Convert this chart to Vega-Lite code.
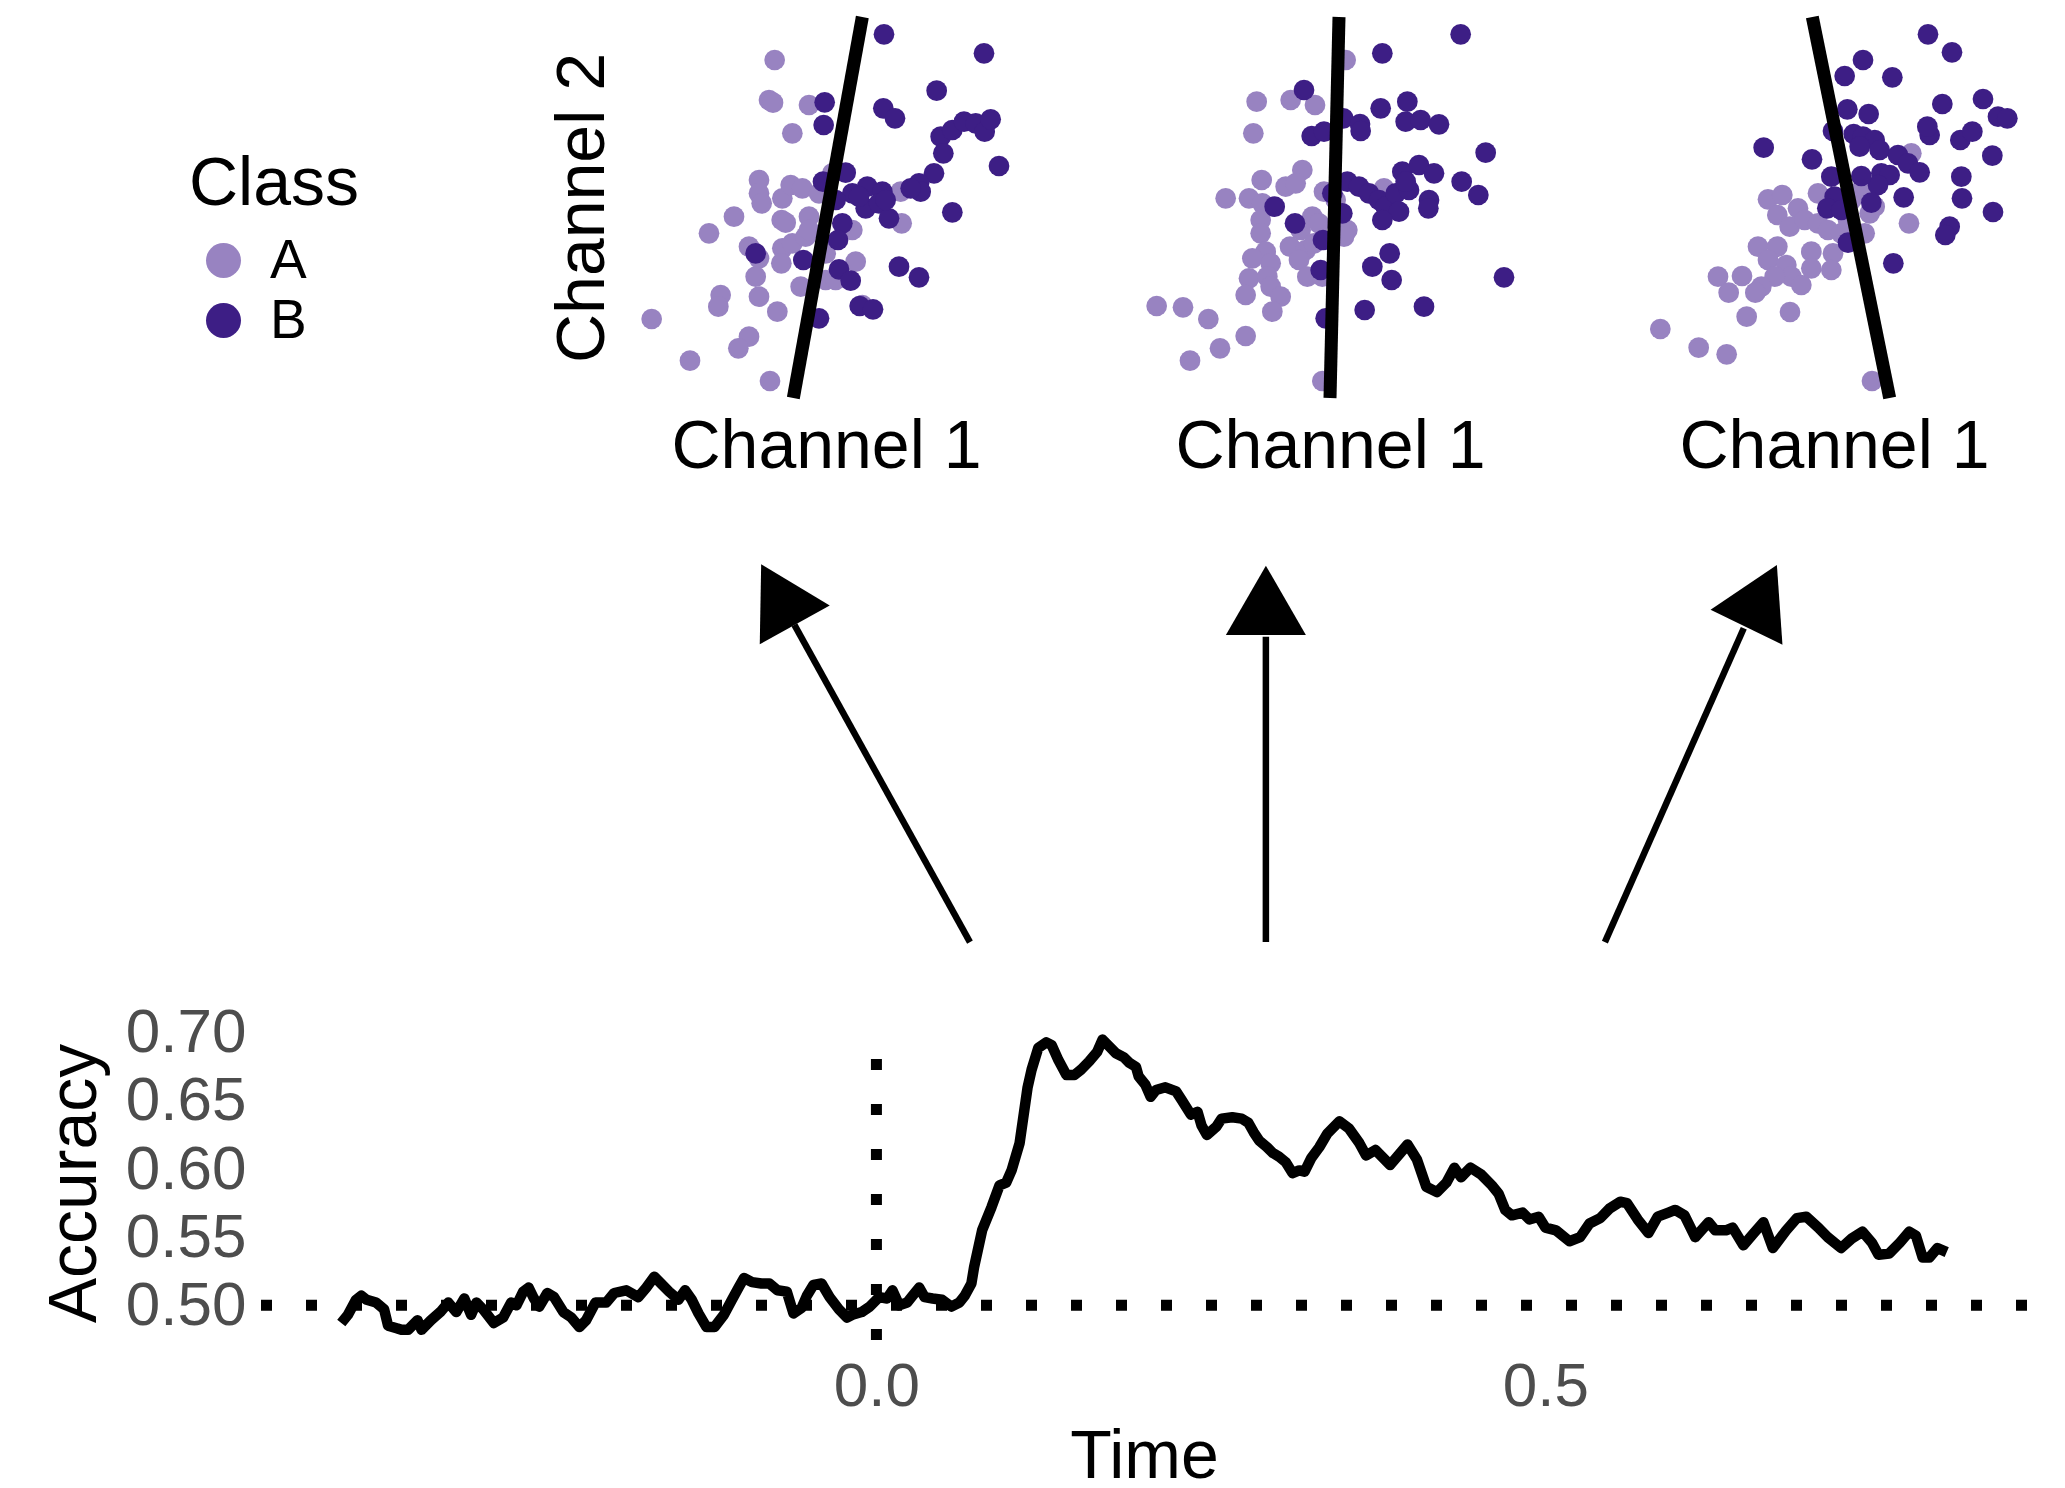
{
  "$schema": "https://vega.github.io/schema/vega-lite/v6.json",
  "background": "white",
  "padding": {"left": 41, "top": 10, "right": 5, "bottom": 5},
  "autosize": {"type": "pad"},
  "config": {
    "font": "Liberation Sans",
    "view": {"stroke": null},
    "axis": {"grid": false, "domain": false, "ticks": false, "titleFontWeight": "normal", "titleColor": "black", "titleFontSize": 68, "labelFont": "Liberation Sans", "titleFont": "Liberation Sans"},
    "legend": {"titleFontWeight": "normal"}
  },
  "datasets": {
    "scatter": [
      {"panel":1,"class":"A","ch1":4.67,"ch2":10.80},{"panel":1,"class":"A","ch1":4.50,"ch2":9.60},{"panel":1,"class":"A","ch1":4.62,"ch2":9.52},{"panel":1,"class":"A","ch1":5.70,"ch2":9.45},{"panel":1,"class":"A","ch1":5.20,"ch2":8.60},{"panel":1,"class":"A","ch1":4.20,"ch2":7.20},{"panel":1,"class":"A","ch1":4.20,"ch2":6.80},{"panel":1,"class":"A","ch1":4.28,"ch2":6.50},{"panel":1,"class":"A","ch1":4.90,"ch2":6.65},{"panel":1,"class":"A","ch1":5.15,"ch2":7.05},{"panel":1,"class":"A","ch1":5.50,"ch2":6.95},{"panel":1,"class":"A","ch1":3.45,"ch2":6.10},{"panel":1,"class":"A","ch1":2.70,"ch2":5.60},{"panel":1,"class":"A","ch1":4.88,"ch2":6.00},{"panel":1,"class":"A","ch1":5.00,"ch2":5.92},{"panel":1,"class":"A","ch1":5.70,"ch2":6.10},{"panel":1,"class":"A","ch1":6.00,"ch2":6.80},{"panel":1,"class":"A","ch1":6.40,"ch2":7.40},{"panel":1,"class":"A","ch1":3.90,"ch2":5.20},{"panel":1,"class":"A","ch1":4.20,"ch2":4.85},{"panel":1,"class":"A","ch1":4.90,"ch2":5.15},{"panel":1,"class":"A","ch1":5.20,"ch2":5.30},{"panel":1,"class":"A","ch1":5.60,"ch2":5.50},{"panel":1,"class":"A","ch1":5.70,"ch2":5.70},{"panel":1,"class":"A","ch1":7.00,"ch2":5.70},{"panel":1,"class":"A","ch1":6.20,"ch2":5.00},{"panel":1,"class":"A","ch1":7.10,"ch2":4.75},{"panel":1,"class":"A","ch1":4.10,"ch2":4.30},{"panel":1,"class":"A","ch1":4.87,"ch2":4.70},{"panel":1,"class":"A","ch1":5.45,"ch2":4.00},{"panel":1,"class":"A","ch1":6.20,"ch2":4.20},{"panel":1,"class":"A","ch1":6.50,"ch2":4.20},{"panel":1,"class":"A","ch1":4.20,"ch2":3.70},{"panel":1,"class":"A","ch1":3.05,"ch2":3.75},{"panel":1,"class":"A","ch1":2.98,"ch2":3.40},{"panel":1,"class":"A","ch1":4.75,"ch2":3.25},{"panel":1,"class":"A","ch1":3.90,"ch2":2.50},{"panel":1,"class":"A","ch1":3.58,"ch2":2.15},{"panel":1,"class":"A","ch1":2.13,"ch2":1.78},{"panel":1,"class":"A","ch1":0.98,"ch2":3.03},{"panel":1,"class":"A","ch1":4.53,"ch2":1.17},{"panel":1,"class":"A","ch1":7.30,"ch2":3.45},{"panel":1,"class":"A","ch1":8.45,"ch2":6.85},{"panel":1,"class":"A","ch1":8.48,"ch2":5.90},
      {"panel":1,"class":"B","ch1":7.95,"ch2":11.57},{"panel":1,"class":"B","ch1":10.95,"ch2":11.00},{"panel":1,"class":"B","ch1":9.53,"ch2":9.88},{"panel":1,"class":"B","ch1":6.17,"ch2":9.53},{"panel":1,"class":"B","ch1":6.14,"ch2":8.85},{"panel":1,"class":"B","ch1":7.93,"ch2":9.35},{"panel":1,"class":"B","ch1":8.28,"ch2":9.05},{"panel":1,"class":"B","ch1":9.65,"ch2":8.50},{"panel":1,"class":"B","ch1":10.00,"ch2":8.70},{"panel":1,"class":"B","ch1":10.35,"ch2":8.95},{"panel":1,"class":"B","ch1":10.70,"ch2":8.90},{"panel":1,"class":"B","ch1":10.97,"ch2":8.65},{"panel":1,"class":"B","ch1":11.15,"ch2":9.02},{"panel":1,"class":"B","ch1":9.73,"ch2":8.00},{"panel":1,"class":"B","ch1":11.40,"ch2":7.62},{"panel":1,"class":"B","ch1":9.45,"ch2":7.40},{"panel":1,"class":"B","ch1":9.00,"ch2":7.10},{"panel":1,"class":"B","ch1":9.05,"ch2":6.85},{"panel":1,"class":"B","ch1":8.75,"ch2":6.95},{"panel":1,"class":"B","ch1":6.80,"ch2":7.42},{"panel":1,"class":"B","ch1":6.12,"ch2":7.15},{"panel":1,"class":"B","ch1":7.00,"ch2":6.80},{"panel":1,"class":"B","ch1":7.45,"ch2":7.00},{"panel":1,"class":"B","ch1":7.90,"ch2":6.85},{"panel":1,"class":"B","ch1":7.40,"ch2":6.35},{"panel":1,"class":"B","ch1":7.80,"ch2":6.50},{"panel":1,"class":"B","ch1":8.10,"ch2":6.05},{"panel":1,"class":"B","ch1":6.70,"ch2":5.90},{"panel":1,"class":"B","ch1":6.57,"ch2":5.40},{"panel":1,"class":"B","ch1":10.00,"ch2":6.23},{"panel":1,"class":"B","ch1":4.10,"ch2":5.00},{"panel":1,"class":"B","ch1":5.53,"ch2":4.80},{"panel":1,"class":"B","ch1":6.60,"ch2":4.52},{"panel":1,"class":"B","ch1":6.95,"ch2":4.18},{"panel":1,"class":"B","ch1":8.40,"ch2":4.60},{"panel":1,"class":"B","ch1":9.00,"ch2":4.28},{"panel":1,"class":"B","ch1":7.22,"ch2":3.42},{"panel":1,"class":"B","ch1":7.62,"ch2":3.32},{"panel":1,"class":"B","ch1":6.00,"ch2":3.05},{"panel":1,"class":"B","ch1":6.50,"ch2":6.60},{"panel":1,"class":"B","ch1":7.20,"ch2":6.70},{"panel":1,"class":"B","ch1":8.00,"ch2":6.60},
      {"panel":2,"class":"A","ch1":6.80,"ch2":10.80},{"panel":2,"class":"A","ch1":4.13,"ch2":9.55},{"panel":2,"class":"A","ch1":5.15,"ch2":9.60},{"panel":2,"class":"A","ch1":5.88,"ch2":9.45},{"panel":2,"class":"A","ch1":4.03,"ch2":8.60},{"panel":2,"class":"A","ch1":5.50,"ch2":7.50},{"panel":2,"class":"A","ch1":4.28,"ch2":7.20},{"panel":2,"class":"A","ch1":5.00,"ch2":7.00},{"panel":2,"class":"A","ch1":5.30,"ch2":7.10},{"panel":2,"class":"A","ch1":6.15,"ch2":6.85},{"panel":2,"class":"A","ch1":3.20,"ch2":6.65},{"panel":2,"class":"A","ch1":3.90,"ch2":6.65},{"panel":2,"class":"A","ch1":4.30,"ch2":6.50},{"panel":2,"class":"A","ch1":4.25,"ch2":6.00},{"panel":2,"class":"A","ch1":4.25,"ch2":5.60},{"panel":2,"class":"A","ch1":5.80,"ch2":6.10},{"panel":2,"class":"A","ch1":6.00,"ch2":5.90},{"panel":2,"class":"A","ch1":5.45,"ch2":5.70},{"panel":2,"class":"A","ch1":6.85,"ch2":5.70},{"panel":2,"class":"A","ch1":6.75,"ch2":5.50},{"panel":2,"class":"A","ch1":5.13,"ch2":5.20},{"panel":2,"class":"A","ch1":5.60,"ch2":5.10},{"panel":2,"class":"A","ch1":4.40,"ch2":5.05},{"panel":2,"class":"A","ch1":4.00,"ch2":4.85},{"panel":2,"class":"A","ch1":4.55,"ch2":4.70},{"panel":2,"class":"A","ch1":5.40,"ch2":4.80},{"panel":2,"class":"A","ch1":5.85,"ch2":5.30},{"panel":2,"class":"A","ch1":3.90,"ch2":4.25},{"panel":2,"class":"A","ch1":4.45,"ch2":4.30},{"panel":2,"class":"A","ch1":5.65,"ch2":4.30},{"panel":2,"class":"A","ch1":6.10,"ch2":4.30},{"panel":2,"class":"A","ch1":4.55,"ch2":4.00},{"panel":2,"class":"A","ch1":3.80,"ch2":3.75},{"panel":2,"class":"A","ch1":4.85,"ch2":3.70},{"panel":2,"class":"A","ch1":4.60,"ch2":3.25},{"panel":2,"class":"A","ch1":1.13,"ch2":3.42},{"panel":2,"class":"A","ch1":1.92,"ch2":3.38},{"panel":2,"class":"A","ch1":2.68,"ch2":3.03},{"panel":2,"class":"A","ch1":3.80,"ch2":2.52},{"panel":2,"class":"A","ch1":3.03,"ch2":2.15},{"panel":2,"class":"A","ch1":2.13,"ch2":1.78},{"panel":2,"class":"A","ch1":6.10,"ch2":1.17},{"panel":2,"class":"A","ch1":7.95,"ch2":6.95},{"panel":2,"class":"A","ch1":6.50,"ch2":6.60},
      {"panel":2,"class":"B","ch1":10.25,"ch2":11.57},{"panel":2,"class":"B","ch1":7.90,"ch2":11.00},{"panel":2,"class":"B","ch1":5.55,"ch2":9.90},{"panel":2,"class":"B","ch1":7.85,"ch2":9.35},{"panel":2,"class":"B","ch1":8.65,"ch2":9.55},{"panel":2,"class":"B","ch1":6.73,"ch2":9.05},{"panel":2,"class":"B","ch1":7.23,"ch2":8.88},{"panel":2,"class":"B","ch1":7.25,"ch2":8.67},{"panel":2,"class":"B","ch1":5.78,"ch2":8.52},{"panel":2,"class":"B","ch1":6.15,"ch2":8.65},{"panel":2,"class":"B","ch1":8.60,"ch2":8.95},{"panel":2,"class":"B","ch1":9.05,"ch2":9.00},{"panel":2,"class":"B","ch1":9.60,"ch2":8.87},{"panel":2,"class":"B","ch1":11.00,"ch2":8.02},{"panel":2,"class":"B","ch1":8.50,"ch2":7.45},{"panel":2,"class":"B","ch1":9.00,"ch2":7.65},{"panel":2,"class":"B","ch1":9.45,"ch2":7.40},{"panel":2,"class":"B","ch1":10.28,"ch2":7.15},{"panel":2,"class":"B","ch1":10.78,"ch2":6.75},{"panel":2,"class":"B","ch1":6.85,"ch2":7.15},{"panel":2,"class":"B","ch1":7.20,"ch2":7.00},{"panel":2,"class":"B","ch1":7.50,"ch2":6.80},{"panel":2,"class":"B","ch1":7.80,"ch2":6.60},{"panel":2,"class":"B","ch1":8.00,"ch2":6.40},{"panel":2,"class":"B","ch1":8.30,"ch2":6.80},{"panel":2,"class":"B","ch1":8.70,"ch2":6.90},{"panel":2,"class":"B","ch1":8.60,"ch2":7.15},{"panel":2,"class":"B","ch1":9.30,"ch2":6.60},{"panel":2,"class":"B","ch1":9.28,"ch2":6.35},{"panel":2,"class":"B","ch1":8.40,"ch2":6.25},{"panel":2,"class":"B","ch1":7.90,"ch2":6.00},{"panel":2,"class":"B","ch1":6.70,"ch2":6.20},{"panel":2,"class":"B","ch1":4.67,"ch2":6.40},{"panel":2,"class":"B","ch1":5.28,"ch2":5.90},{"panel":2,"class":"B","ch1":6.12,"ch2":5.40},{"panel":2,"class":"B","ch1":6.05,"ch2":4.50},{"panel":2,"class":"B","ch1":7.60,"ch2":4.60},{"panel":2,"class":"B","ch1":8.12,"ch2":5.00},{"panel":2,"class":"B","ch1":8.18,"ch2":4.20},{"panel":2,"class":"B","ch1":11.55,"ch2":4.28},{"panel":2,"class":"B","ch1":7.37,"ch2":3.30},{"panel":2,"class":"B","ch1":9.15,"ch2":3.40},{"panel":2,"class":"B","ch1":6.20,"ch2":3.05},{"panel":2,"class":"B","ch1":6.40,"ch2":6.80},
      {"panel":3,"class":"A","ch1":8.80,"ch2":8.00},{"panel":3,"class":"A","ch1":8.73,"ch2":5.90},{"panel":3,"class":"A","ch1":4.50,"ch2":6.62},{"panel":3,"class":"A","ch1":4.93,"ch2":6.75},{"panel":3,"class":"A","ch1":6.00,"ch2":6.80},{"panel":3,"class":"A","ch1":5.40,"ch2":6.35},{"panel":3,"class":"A","ch1":4.78,"ch2":6.15},{"panel":3,"class":"A","ch1":5.15,"ch2":5.80},{"panel":3,"class":"A","ch1":5.60,"ch2":6.00},{"panel":3,"class":"A","ch1":6.00,"ch2":5.90},{"panel":3,"class":"A","ch1":6.30,"ch2":5.70},{"panel":3,"class":"A","ch1":6.70,"ch2":5.60},{"panel":3,"class":"A","ch1":7.40,"ch2":5.60},{"panel":3,"class":"A","ch1":7.30,"ch2":6.90},{"panel":3,"class":"A","ch1":7.70,"ch2":6.40},{"panel":3,"class":"A","ch1":7.55,"ch2":6.20},{"panel":3,"class":"A","ch1":4.20,"ch2":5.20},{"panel":3,"class":"A","ch1":4.78,"ch2":5.20},{"panel":3,"class":"A","ch1":5.80,"ch2":5.05},{"panel":3,"class":"A","ch1":6.45,"ch2":5.00},{"panel":3,"class":"A","ch1":4.50,"ch2":4.80},{"panel":3,"class":"A","ch1":5.05,"ch2":4.65},{"panel":3,"class":"A","ch1":5.20,"ch2":4.30},{"panel":3,"class":"A","ch1":4.70,"ch2":4.30},{"panel":3,"class":"A","ch1":4.30,"ch2":4.00},{"panel":3,"class":"A","ch1":5.50,"ch2":4.05},{"panel":3,"class":"A","ch1":5.80,"ch2":4.55},{"panel":3,"class":"A","ch1":6.40,"ch2":4.50},{"panel":3,"class":"A","ch1":3.00,"ch2":4.30},{"panel":3,"class":"A","ch1":3.72,"ch2":4.32},{"panel":3,"class":"A","ch1":3.32,"ch2":3.82},{"panel":3,"class":"A","ch1":4.12,"ch2":3.82},{"panel":3,"class":"A","ch1":3.86,"ch2":3.10},{"panel":3,"class":"A","ch1":5.16,"ch2":3.24},{"panel":3,"class":"A","ch1":1.27,"ch2":2.73},{"panel":3,"class":"A","ch1":2.42,"ch2":2.17},{"panel":3,"class":"A","ch1":3.26,"ch2":1.97},{"panel":3,"class":"A","ch1":7.62,"ch2":1.17},{"panel":3,"class":"A","ch1":6.90,"ch2":6.00},{"panel":3,"class":"A","ch1":7.00,"ch2":6.60},
      {"panel":3,"class":"B","ch1":9.30,"ch2":11.57},{"panel":3,"class":"B","ch1":10.02,"ch2":11.03},{"panel":3,"class":"B","ch1":7.35,"ch2":10.80},{"panel":3,"class":"B","ch1":6.80,"ch2":10.32},{"panel":3,"class":"B","ch1":8.23,"ch2":10.28},{"panel":3,"class":"B","ch1":9.73,"ch2":9.48},{"panel":3,"class":"B","ch1":10.95,"ch2":9.63},{"panel":3,"class":"B","ch1":11.40,"ch2":9.10},{"panel":3,"class":"B","ch1":11.68,"ch2":9.05},{"panel":3,"class":"B","ch1":6.88,"ch2":9.32},{"panel":3,"class":"B","ch1":7.52,"ch2":9.18},{"panel":3,"class":"B","ch1":4.37,"ch2":8.17},{"panel":3,"class":"B","ch1":5.82,"ch2":7.82},{"panel":3,"class":"B","ch1":6.45,"ch2":8.67},{"panel":3,"class":"B","ch1":7.07,"ch2":8.58},{"panel":3,"class":"B","ch1":7.35,"ch2":8.50},{"panel":3,"class":"B","ch1":7.70,"ch2":8.40},{"panel":3,"class":"B","ch1":7.25,"ch2":8.20},{"panel":3,"class":"B","ch1":7.85,"ch2":8.10},{"panel":3,"class":"B","ch1":8.40,"ch2":7.95},{"panel":3,"class":"B","ch1":8.70,"ch2":7.70},{"panel":3,"class":"B","ch1":9.05,"ch2":7.43},{"panel":3,"class":"B","ch1":9.35,"ch2":8.55},{"panel":3,"class":"B","ch1":9.28,"ch2":8.80},{"panel":3,"class":"B","ch1":10.27,"ch2":8.40},{"panel":3,"class":"B","ch1":10.63,"ch2":8.65},{"panel":3,"class":"B","ch1":11.23,"ch2":7.93},{"panel":3,"class":"B","ch1":10.30,"ch2":7.30},{"panel":3,"class":"B","ch1":10.32,"ch2":6.65},{"panel":3,"class":"B","ch1":11.25,"ch2":6.24},{"panel":3,"class":"B","ch1":9.95,"ch2":5.80},{"panel":3,"class":"B","ch1":9.82,"ch2":5.55},{"panel":3,"class":"B","ch1":8.57,"ch2":6.68},{"panel":3,"class":"B","ch1":7.90,"ch2":7.40},{"panel":3,"class":"B","ch1":8.15,"ch2":7.35},{"panel":3,"class":"B","ch1":7.80,"ch2":7.05},{"panel":3,"class":"B","ch1":7.30,"ch2":7.32},{"panel":3,"class":"B","ch1":7.60,"ch2":6.52},{"panel":3,"class":"B","ch1":6.40,"ch2":7.30},{"panel":3,"class":"B","ch1":6.50,"ch2":6.70},{"panel":3,"class":"B","ch1":6.28,"ch2":6.35},{"panel":3,"class":"B","ch1":6.90,"ch2":5.32},{"panel":3,"class":"B","ch1":8.26,"ch2":4.70},{"panel":3,"class":"B","ch1":6.70,"ch2":6.30}
    ],
    "boundary": [
      {"panel":1,"ch1":7.30,"ch2":12.09},{"panel":1,"ch1":5.23,"ch2":0.66},
      {"panel":2,"ch1":6.60,"ch2":12.09},{"panel":2,"ch1":6.33,"ch2":0.66},
      {"panel":3,"ch1":5.83,"ch2":12.09},{"panel":3,"ch1":8.15,"ch2":0.66}
    ],
    "arrows": [
      {"arrow":1,"x0":0.0699,"y0":0.081,"x1":-0.0613,"y1":0.742,"hx":-0.0736,"hy":0.805,"angle":331},
      {"arrow":2,"x0":0.2911,"y0":0.081,"x1":0.2911,"y1":0.717,"hx":0.2911,"hy":0.793,"angle":0},
      {"arrow":3,"x0":0.5445,"y0":0.081,"x1":0.6483,"y1":0.735,"hx":0.6617,"hy":0.802,"angle":26}
    ],
    "acc": [
      {"time":-0.400,"accuracy":0.487},{"time":-0.395,"accuracy":0.493},{"time":-0.389,"accuracy":0.504},{"time":-0.385,"accuracy":0.507},{"time":-0.381,"accuracy":0.504},{"time":-0.374,"accuracy":0.502},{"time":-0.368,"accuracy":0.497},{"time":-0.365,"accuracy":0.485},{"time":-0.358,"accuracy":0.483},{"time":-0.355,"accuracy":0.482},{"time":-0.350,"accuracy":0.482},{"time":-0.343,"accuracy":0.489},{"time":-0.340,"accuracy":0.482},{"time":-0.333,"accuracy":0.489},{"time":-0.326,"accuracy":0.495},{"time":-0.320,"accuracy":0.502},{"time":-0.314,"accuracy":0.495},{"time":-0.308,"accuracy":0.505},{"time":-0.303,"accuracy":0.493},{"time":-0.299,"accuracy":0.502},{"time":-0.294,"accuracy":0.497},{"time":-0.286,"accuracy":0.487},{"time":-0.279,"accuracy":0.491},{"time":-0.273,"accuracy":0.502},{"time":-0.269,"accuracy":0.500},{"time":-0.264,"accuracy":0.510},{"time":-0.260,"accuracy":0.513},{"time":-0.256,"accuracy":0.505},{"time":-0.252,"accuracy":0.499},{"time":-0.246,"accuracy":0.509},{"time":-0.241,"accuracy":0.506},{"time":-0.234,"accuracy":0.495},{"time":-0.228,"accuracy":0.491},{"time":-0.222,"accuracy":0.484},{"time":-0.217,"accuracy":0.489},{"time":-0.210,"accuracy":0.502},{"time":-0.202,"accuracy":0.502},{"time":-0.196,"accuracy":0.509},{"time":-0.187,"accuracy":0.511},{"time":-0.178,"accuracy":0.506},{"time":-0.172,"accuracy":0.513},{"time":-0.166,"accuracy":0.521},{"time":-0.161,"accuracy":0.516},{"time":-0.155,"accuracy":0.510},{"time":-0.148,"accuracy":0.504},{"time":-0.143,"accuracy":0.511},{"time":-0.138,"accuracy":0.504},{"time":-0.133,"accuracy":0.494},{"time":-0.127,"accuracy":0.484},{"time":-0.121,"accuracy":0.484},{"time":-0.114,"accuracy":0.493},{"time":-0.108,"accuracy":0.504},{"time":-0.103,"accuracy":0.513},{"time":-0.099,"accuracy":0.520},{"time":-0.093,"accuracy":0.517},{"time":-0.086,"accuracy":0.516},{"time":-0.080,"accuracy":0.516},{"time":-0.074,"accuracy":0.511},{"time":-0.067,"accuracy":0.510},{"time":-0.062,"accuracy":0.494},{"time":-0.056,"accuracy":0.498},{"time":-0.052,"accuracy":0.507},{"time":-0.047,"accuracy":0.515},{"time":-0.041,"accuracy":0.516},{"time":-0.035,"accuracy":0.506},{"time":-0.028,"accuracy":0.497},{"time":-0.022,"accuracy":0.491},{"time":-0.018,"accuracy":0.493},{"time":-0.011,"accuracy":0.495},{"time":-0.005,"accuracy":0.499},{"time":0.002,"accuracy":0.506},{"time":0.008,"accuracy":0.505},{"time":0.012,"accuracy":0.511},{"time":0.017,"accuracy":0.500},{"time":0.023,"accuracy":0.502},{"time":0.027,"accuracy":0.507},{"time":0.032,"accuracy":0.513},{"time":0.036,"accuracy":0.506},{"time":0.042,"accuracy":0.505},{"time":0.049,"accuracy":0.504},{"time":0.056,"accuracy":0.499},{"time":0.062,"accuracy":0.502},{"time":0.066,"accuracy":0.507},{"time":0.071,"accuracy":0.516},{"time":0.073,"accuracy":0.528},{"time":0.079,"accuracy":0.555},{"time":0.086,"accuracy":0.572},{"time":0.092,"accuracy":0.588},{"time":0.097,"accuracy":0.590},{"time":0.101,"accuracy":0.599},{"time":0.107,"accuracy":0.619},{"time":0.113,"accuracy":0.660},{"time":0.116,"accuracy":0.673},{"time":0.121,"accuracy":0.689},{"time":0.127,"accuracy":0.693},{"time":0.131,"accuracy":0.691},{"time":0.136,"accuracy":0.680},{"time":0.142,"accuracy":0.669},{"time":0.148,"accuracy":0.669},{"time":0.153,"accuracy":0.673},{"time":0.159,"accuracy":0.679},{"time":0.165,"accuracy":0.686},{"time":0.169,"accuracy":0.695},{"time":0.174,"accuracy":0.690},{"time":0.179,"accuracy":0.685},{"time":0.185,"accuracy":0.682},{"time":0.189,"accuracy":0.678},{"time":0.194,"accuracy":0.675},{"time":0.196,"accuracy":0.668},{"time":0.201,"accuracy":0.662},{"time":0.205,"accuracy":0.653},{"time":0.209,"accuracy":0.658},{"time":0.216,"accuracy":0.660},{"time":0.224,"accuracy":0.657},{"time":0.228,"accuracy":0.651},{"time":0.235,"accuracy":0.640},{"time":0.240,"accuracy":0.642},{"time":0.243,"accuracy":0.632},{"time":0.247,"accuracy":0.625},{"time":0.254,"accuracy":0.631},{"time":0.258,"accuracy":0.637},{"time":0.266,"accuracy":0.638},{"time":0.273,"accuracy":0.637},{"time":0.278,"accuracy":0.634},{"time":0.282,"accuracy":0.627},{"time":0.286,"accuracy":0.621},{"time":0.292,"accuracy":0.616},{"time":0.296,"accuracy":0.612},{"time":0.301,"accuracy":0.609},{"time":0.306,"accuracy":0.605},{"time":0.311,"accuracy":0.597},{"time":0.316,"accuracy":0.599},{"time":0.320,"accuracy":0.598},{"time":0.325,"accuracy":0.608},{"time":0.331,"accuracy":0.616},{"time":0.337,"accuracy":0.626},{"time":0.346,"accuracy":0.635},{"time":0.353,"accuracy":0.630},{"time":0.361,"accuracy":0.619},{"time":0.366,"accuracy":0.610},{"time":0.373,"accuracy":0.614},{"time":0.384,"accuracy":0.603},{"time":0.397,"accuracy":0.618},{"time":0.404,"accuracy":0.607},{"time":0.411,"accuracy":0.587},{"time":0.419,"accuracy":0.583},{"time":0.426,"accuracy":0.590},{"time":0.432,"accuracy":0.601},{"time":0.437,"accuracy":0.594},{"time":0.444,"accuracy":0.601},{"time":0.452,"accuracy":0.596},{"time":0.460,"accuracy":0.588},{"time":0.465,"accuracy":0.582},{"time":0.470,"accuracy":0.570},{"time":0.475,"accuracy":0.566},{"time":0.483,"accuracy":0.568},{"time":0.488,"accuracy":0.563},{"time":0.495,"accuracy":0.565},{"time":0.500,"accuracy":0.557},{"time":0.508,"accuracy":0.555},{"time":0.518,"accuracy":0.547},{"time":0.526,"accuracy":0.550},{"time":0.533,"accuracy":0.560},{"time":0.541,"accuracy":0.564},{"time":0.548,"accuracy":0.571},{"time":0.556,"accuracy":0.576},{"time":0.561,"accuracy":0.575},{"time":0.569,"accuracy":0.563},{"time":0.577,"accuracy":0.553},{"time":0.584,"accuracy":0.565},{"time":0.592,"accuracy":0.568},{"time":0.597,"accuracy":0.570},{"time":0.604,"accuracy":0.566},{"time":0.612,"accuracy":0.550},{"time":0.622,"accuracy":0.561},{"time":0.627,"accuracy":0.555},{"time":0.635,"accuracy":0.555},{"time":0.640,"accuracy":0.557},{"time":0.648,"accuracy":0.544},{"time":0.655,"accuracy":0.552},{"time":0.663,"accuracy":0.561},{"time":0.670,"accuracy":0.542},{"time":0.680,"accuracy":0.555},{"time":0.688,"accuracy":0.564},{"time":0.695,"accuracy":0.565},{"time":0.704,"accuracy":0.557},{"time":0.711,"accuracy":0.550},{"time":0.721,"accuracy":0.542},{"time":0.729,"accuracy":0.549},{"time":0.737,"accuracy":0.554},{"time":0.744,"accuracy":0.546},{"time":0.749,"accuracy":0.537},{"time":0.757,"accuracy":0.538},{"time":0.765,"accuracy":0.546},{"time":0.772,"accuracy":0.554},{"time":0.777,"accuracy":0.551},{"time":0.782,"accuracy":0.535},{"time":0.787,"accuracy":0.535},{"time":0.793,"accuracy":0.542},{"time":0.800,"accuracy":0.539}
    ]
  },
  "vconcat": [
    {
      "hconcat": [
        {
          "width": 252, "height": 381,
          "data": {"values": [{}]},
          "mark": {"type": "point", "opacity": 0}
        },
        {
          "width": 382, "height": 381,
          "layer": [
            {
              "data": {"name": "scatter"},
              "transform": [{"filter": "datum.panel == 1"}],
              "mark": {"type": "circle", "size": 430, "opacity": 1},
              "encoding": {
                "x": {"field": "ch1", "type": "quantitative", "scale": {"domain": [0.48, 11.94], "nice": false, "zero": false}, "axis": {"title": "Channel 1", "labels": false, "titlePadding": 15}},
                "y": {"field": "ch2", "type": "quantitative", "scale": {"domain": [0.66, 12.09], "nice": false, "zero": false}, "axis": {"title": "Channel 2", "labels": false, "titlePadding": 18}},
                "color": {"field": "class", "type": "nominal", "scale": {"domain": ["A", "B"], "range": ["#9883c1", "#3d1e85"]},
                  "legend": {"orient": "none", "legendX": -446, "legendY": 134, "title": "Class", "titleFontSize": 68, "titleColor": "black", "titleFont": "Liberation Sans", "labelFontSize": 55, "labelColor": "black", "labelFont": "Liberation Sans", "symbolSize": 1225, "symbolType": "circle", "symbolOffset": 7, "labelOffset": 19, "rowPadding": 4, "titlePadding": 14, "symbolStrokeWidth": 0, "symbolOpacity": 1, "padding": 0}}
              }
            },
            {
              "data": {"name": "boundary"},
              "transform": [{"filter": "datum.panel == 1"}],
              "mark": {"type": "line", "color": "black", "strokeWidth": 13, "strokeCap": "butt", "strokeJoin": "round"},
              "encoding": {
                "x": {"field": "ch1", "type": "quantitative"},
                "y": {"field": "ch2", "type": "quantitative"}
              }
            }
          ]
        },
        {
          "width": 382, "height": 381,
          "layer": [
            {
              "data": {"name": "scatter"},
              "transform": [{"filter": "datum.panel == 2"}],
              "mark": {"type": "circle", "size": 430, "opacity": 1},
              "encoding": {
                "x": {"field": "ch1", "type": "quantitative", "scale": {"domain": [0.60, 12.06], "nice": false, "zero": false}, "axis": {"title": "Channel 1", "labels": false, "titlePadding": 15}},
                "y": {"field": "ch2", "type": "quantitative", "scale": {"domain": [0.66, 12.09], "nice": false, "zero": false}, "axis": null},
                "color": {"field": "class", "type": "nominal", "scale": {"domain": ["A", "B"], "range": ["#9883c1", "#3d1e85"]}, "legend": null}
              }
            },
            {
              "data": {"name": "boundary"},
              "transform": [{"filter": "datum.panel == 2"}],
              "mark": {"type": "line", "color": "black", "strokeWidth": 13, "strokeCap": "butt", "strokeJoin": "round"},
              "encoding": {
                "x": {"field": "ch1", "type": "quantitative"},
                "y": {"field": "ch2", "type": "quantitative"}
              }
            }
          ]
        },
        {
          "width": 382, "height": 381,
          "layer": [
            {
              "data": {"name": "scatter"},
              "transform": [{"filter": "datum.panel == 3"}],
              "mark": {"type": "circle", "size": 430, "opacity": 1},
              "encoding": {
                "x": {"field": "ch1", "type": "quantitative", "scale": {"domain": [0.75, 12.21], "nice": false, "zero": false}, "axis": {"title": "Channel 1", "labels": false, "titlePadding": 15}},
                "y": {"field": "ch2", "type": "quantitative", "scale": {"domain": [0.66, 12.09], "nice": false, "zero": false}, "axis": null},
                "color": {"field": "class", "type": "nominal", "scale": {"domain": ["A", "B"], "range": ["#9883c1", "#3d1e85"]}, "legend": null}
              }
            },
            {
              "data": {"name": "boundary"},
              "transform": [{"filter": "datum.panel == 3"}],
              "mark": {"type": "line", "color": "black", "strokeWidth": 13, "strokeCap": "butt", "strokeJoin": "round"},
              "encoding": {
                "x": {"field": "ch1", "type": "quantitative"},
                "y": {"field": "ch2", "type": "quantitative"}
              }
            }
          ]
        }
      ],
      "spacing": 122,
      "bounds": "flush",
      "resolve": {"scale": {"color": "independent", "x": "independent", "y": "independent"}, "legend": {"color": "independent"}}
    },
    {
      "width": 1766, "height": 480,
      "data": {"name": "arrows"},
      "layer": [
        {
          "mark": {"type": "rule", "color": "black", "strokeWidth": 6.5, "strokeCap": "butt"},
          "encoding": {
            "x": {"field": "x0", "type": "quantitative", "scale": {"domain": [-0.46, 0.86], "nice": false, "zero": false}, "axis": null},
            "y": {"field": "y0", "type": "quantitative", "scale": {"domain": [0, 1], "nice": false, "zero": false}, "axis": null},
            "x2": {"field": "x1"},
            "y2": {"field": "y1"}
          }
        },
        {
          "mark": {"type": "point", "shape": "triangle-up", "filled": true, "opacity": 1, "color": "black", "size": 6400},
          "encoding": {
            "x": {"field": "hx", "type": "quantitative"},
            "y": {"field": "hy", "type": "quantitative"},
            "angle": {"field": "angle", "type": "quantitative", "scale": null}
          }
        }
      ]
    },
    {
      "width": 1766, "height": 314,
      "layer": [
        {
          "data": {"values": [{}]},
          "mark": {"type": "rule", "color": "black", "strokeWidth": 11, "strokeDash": [11, 34], "strokeCap": "butt"},
          "encoding": {
            "y": {"datum": 0.5, "type": "quantitative", "scale": {"domain": [0.4745, 0.705], "nice": false, "zero": false}}
          }
        },
        {
          "data": {"values": [{}]},
          "mark": {"type": "rule", "color": "black", "strokeWidth": 11, "strokeDash": [11, 34], "strokeCap": "butt"},
          "encoding": {
            "x": {"datum": 0, "type": "quantitative"},
            "y": {"datum": 0.4745, "type": "quantitative"},
            "y2": {"datum": 0.705}
          }
        },
        {
          "data": {"name": "acc"},
          "mark": {"type": "line", "color": "black", "strokeWidth": 10.5, "strokeJoin": "round", "strokeCap": "butt"},
          "encoding": {
            "x": {"field": "time", "type": "quantitative", "scale": {"domain": [-0.46, 0.86], "nice": false, "zero": false},
              "axis": {"title": "Time", "values": [0, 0.5], "format": ".1f", "labelFontSize": 62, "labelColor": "#4d4d4d", "labelPadding": 16, "titlePadding": 6, "labelFlush": false}},
            "y": {"field": "accuracy", "type": "quantitative",
              "axis": {"title": "Accuracy", "values": [0.5, 0.55, 0.6, 0.65, 0.7], "format": ".2f", "labelFontSize": 62, "labelColor": "#4d4d4d", "labelPadding": 15, "titlePadding": 16}}
          }
        }
      ]
    }
  ],
  "spacing": 20
}
